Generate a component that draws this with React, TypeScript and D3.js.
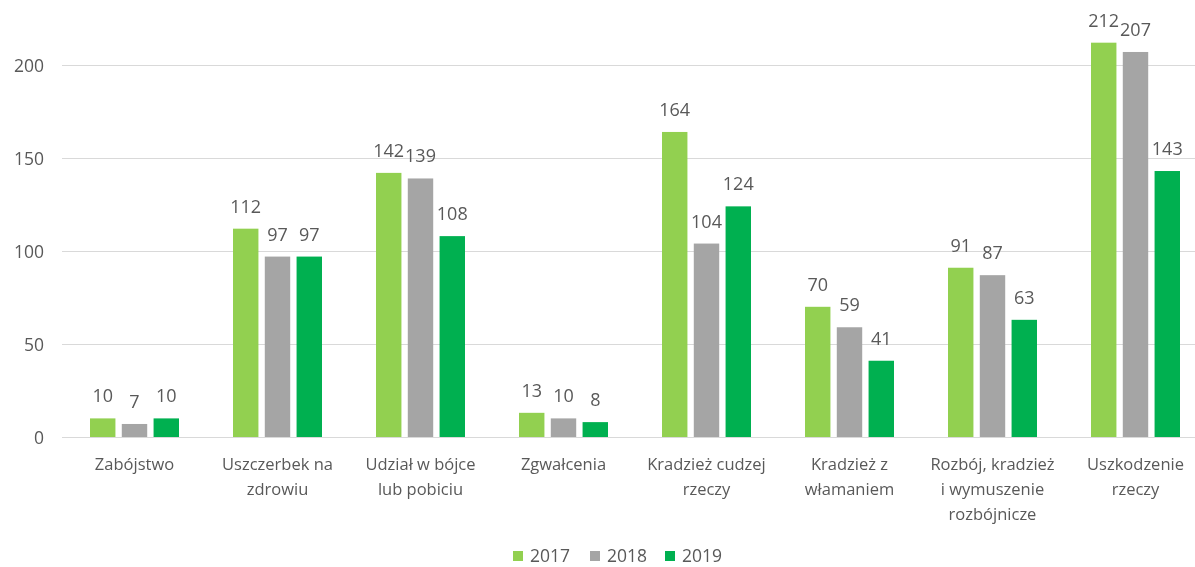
import React, { useEffect, useRef } from "react";
import * as d3 from "d3";

const categories = [
  "Zabójstwo",
  "Uszczerbek na|zdrowiu",
  "Udział w bójce|lub pobiciu",
  "Zgwałcenia",
  "Kradzież cudzej|rzeczy",
  "Kradzież z|włamaniem",
  "Rozbój, kradzież|i wymuszenie|rozbójnicze",
  "Uszkodzenie|rzeczy",
];
const years = ["2017", "2018", "2019"];
const values2017 = [10, 112, 142, 13, 164, 70, 91, 212];
const values2018 = [7, 97, 139, 10, 104, 59, 87, 207];
const values2019 = [10, 97, 108, 8, 124, 41, 63, 143];
const yTicks = [0, 50, 100, 150, 200];
const colors = ["#92D050", "#A5A5A5", "#00B050"];

export default function App() {
  const ref = useRef<SVGSVGElement>(null);

  useEffect(() => {
    const width = 1195;
    const height = 567;
    const left = 63;
    const right = 1207;
    const top = 65;
    const bottom = 437;
    const font = "Open Sans, sans-serif";
    const textColor = "#595959";

    const svg = d3.select(ref.current);
    svg.selectAll("*").remove();
    svg.attr("width", width).attr("height", height).style("font-family", font);

    const x = d3.scaleBand().domain(categories).range([left, right]);
    const y = d3.scaleLinear().domain([0, 200]).range([bottom, top]);
    const inner = d3.scaleBand().domain(years).range([27, 116]).paddingInner(0.2);

    // gridlines
    svg
      .append("g")
      .selectAll("line")
      .data(yTicks)
      .join("line")
      .attr("x1", left - 1)
      .attr("x2", width)
      .attr("y1", (d) => y(d) + 0.5)
      .attr("y2", (d) => y(d) + 0.5)
      .attr("stroke", "#d9d9d9")
      .attr("stroke-width", 1);

    svg
      .append("g")
      .selectAll("text")
      .data(yTicks)
      .join("text")
      .attr("x", 44)
      .attr("y", (d) => y(d) + 7)
      .attr("text-anchor", "end")
      .attr("font-size", 17.5)
      .attr("fill", textColor)
      .text((d) => d);

    const series = [values2017, values2018, values2019];
    const groups = svg
      .append("g")
      .selectAll("g")
      .data(categories)
      .join("g")
      .attr("transform", (d) => `translate(${x(d)},0)`);

    groups.each(function (cat, i) {
      const g = d3.select(this);
      years.forEach((yr, j) => {
        const v = series[j][i];
        g.append("rect")
          .attr("x", inner(yr)!)
          .attr("width", inner.bandwidth())
          .attr("y", y(v))
          .attr("height", bottom - y(v))
          .attr("fill", colors[j]);
        g.append("text")
          .attr("x", inner(yr)! + inner.bandwidth() / 2)
          .attr("y", y(v) - 16)
          .attr("text-anchor", "middle")
          .attr("font-size", 18)
          .attr("fill", textColor)
          .text(v);
      });
      const lines = cat.split("|");
      g.append("text")
        .attr("text-anchor", "middle")
        .attr("font-size", 16.5)
        .attr("fill", textColor)
        .selectAll("tspan")
        .data(lines)
        .join("tspan")
        .attr("x", x.bandwidth() / 2)
        .attr("y", (d, k) => 470 + k * 25)
        .text((d) => d);
    });

    // legend
    const legendX = [513, 590, 665];
    const legend = svg
      .append("g")
      .selectAll("g")
      .data(years)
      .join("g")
      .attr("transform", (d, i) => `translate(${legendX[i]},0)`);
    legend
      .append("rect")
      .attr("x", 0)
      .attr("y", 551)
      .attr("width", 10)
      .attr("height", 10)
      .attr("fill", (d, i) => colors[i]);
    legend
      .append("text")
      .attr("x", 17)
      .attr("y", 562)
      .attr("font-size", 17.5)
      .attr("fill", textColor)
      .text((d) => d);
  }, []);

  return (
    <div style={{ position: "fixed", left: 0, top: 0, width: 1195, height: 567, overflow: "hidden" }}>
      <svg ref={ref} style={{ display: "block" }}></svg>
    </div>
  );
}
